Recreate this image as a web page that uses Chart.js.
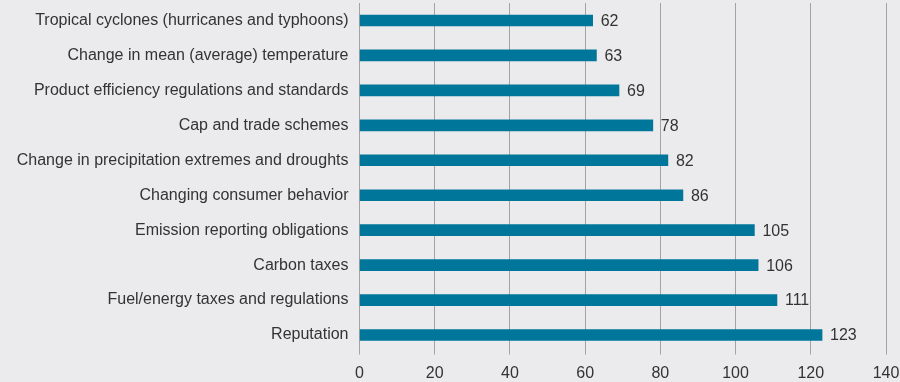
<!DOCTYPE html>
<html><head><meta charset="utf-8">
<script src="https://cdn.jsdelivr.net/npm/chart.js@4/dist/chart.umd.min.js"></script>
<style>html,body{margin:0;padding:0;background:#ebebed;}#wrap{width:900px;height:382px;}</style>
</head><body><div id="wrap"><canvas id="c" width="900" height="382"></canvas></div>
<script>
const categories = [
  "Tropical cyclones (hurricanes and typhoons)",
  "Change in mean (average) temperature",
  "Product efficiency regulations and standards",
  "Cap and trade schemes",
  "Change in precipitation extremes and droughts",
  "Changing consumer behavior",
  "Emission reporting obligations",
  "Carbon taxes",
  "Fuel/energy taxes and regulations",
  "Reputation"
];
const values = [62, 63, 69, 78, 82, 86, 105, 106, 111, 123];
const xTicks = [0, 20, 40, 60, 80, 100, 120, 140];

const FONT = '"Liberation Sans", Arial, sans-serif';

const valueLabels = {
  id: 'valueLabels',
  afterDatasetsDraw(chart) {
    const ctx = chart.ctx;
    const meta = chart.getDatasetMeta(0);
    ctx.save();
    ctx.font = '16px ' + FONT;
    ctx.fillStyle = '#333333';
    ctx.textAlign = 'left';
    ctx.textBaseline = 'middle';
    meta.data.forEach((bar, i) => {
      ctx.fillText(String(values[i]), bar.x + 8, bar.y + 1);
    });
    ctx.restore();
  }
};

new Chart(document.getElementById('c'), {
  type: 'bar',
  data: {
    labels: categories,
    datasets: [{
      data: values,
      backgroundColor: '#00769a',
      borderWidth: 0,
      barThickness: 11
    }]
  },
  options: {
    indexAxis: 'y',
    responsive: false,
    animation: false,
    devicePixelRatio: 1,
    layout: { padding: { top: 3, right: 14, bottom: 0, left: 0 } },
    plugins: { legend: { display: false }, tooltip: { enabled: false } },
    scales: {
      x: {
        min: 0, max: 140,
        afterBuildTicks(axis) { axis.ticks = xTicks.map(v => ({ value: v })); },
        afterFit(axis) { axis.paddingRight = 0; axis.paddingLeft = 0; axis.height = 29.5; },
        grid: { color: '#a3a3a3', lineWidth: 1, drawTicks: true, tickLength: 2 },
        border: { display: false },
        ticks: { color: '#333333', font: { family: FONT, size: 16 }, padding: 9, maxRotation: 0 }
      },
      y: {
        afterFit(axis) { axis.width = 359.5; axis.paddingTop = 0; axis.paddingBottom = 0; },
        grid: { display: false, drawTicks: false },
        border: { display: false },
        ticks: { color: '#333333', font: { family: FONT, size: 16 }, padding: 11, autoSkip: false }
      }
    }
  },
  plugins: [valueLabels]
});
</script></body></html>
